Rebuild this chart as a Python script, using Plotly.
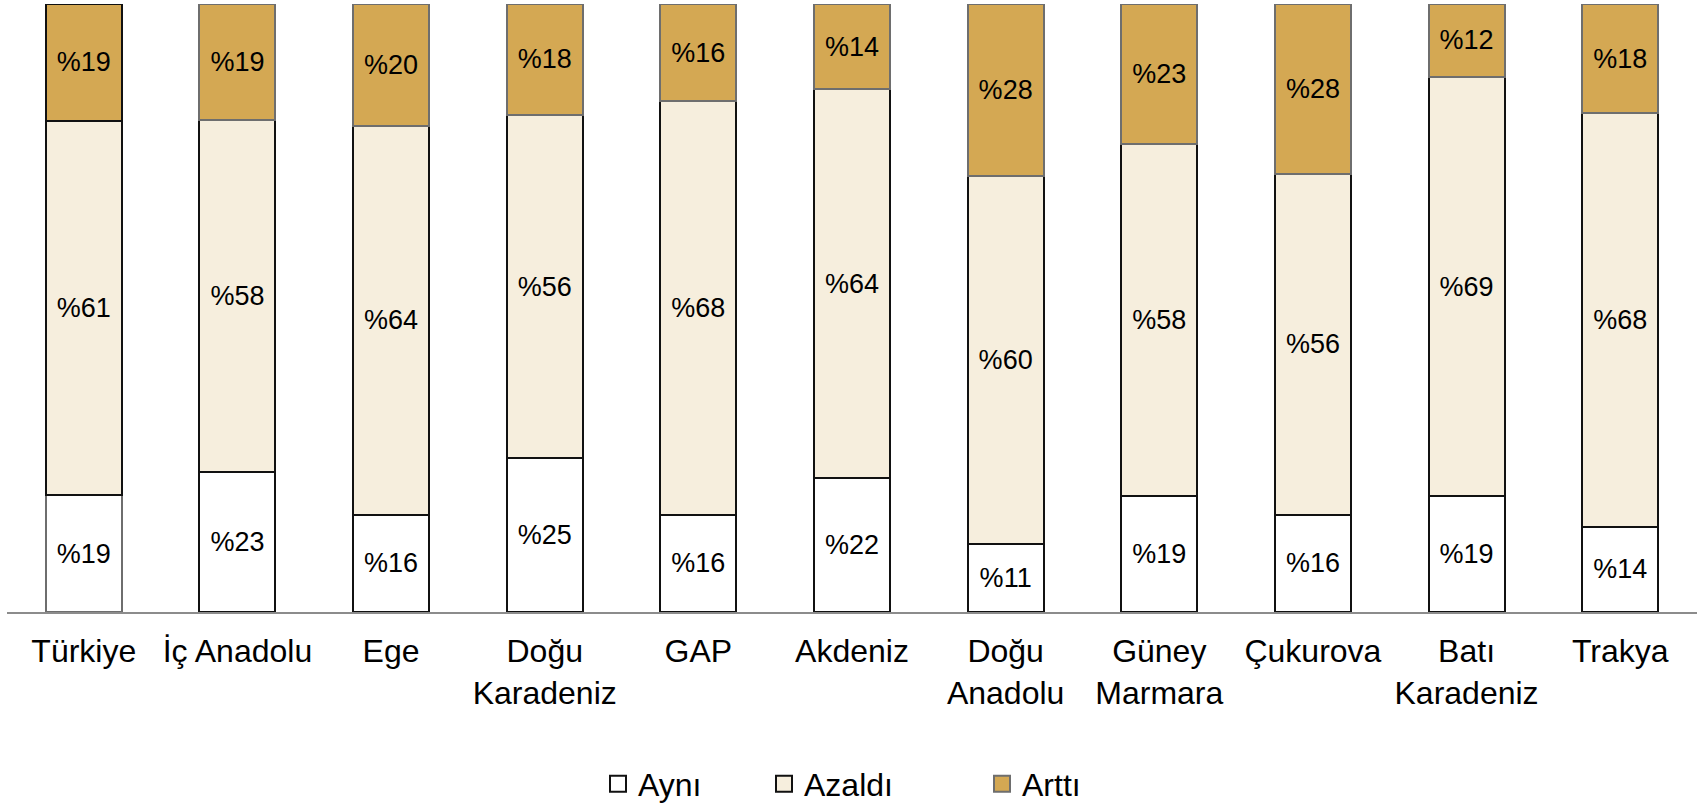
import plotly.graph_objects as go

regions = ["Türkiye", "İç Anadolu", "Ege", "Doğu<br>Karadeniz", "GAP", "Akdeniz",
           "Doğu<br>Anadolu", "Güney<br>Marmara", "Çukurova", "Batı<br>Karadeniz", "Trakya"]
ayni = [19, 23, 16, 25, 16, 22, 11, 19, 16, 19, 14]
azaldi = [61, 58, 64, 56, 68, 64, 60, 58, 56, 69, 68]
artti = [19, 19, 20, 18, 16, 14, 28, 23, 28, 12, 18]

WHITE = "#FFFFFF"
CREAM = "#F6EEDD"
GOLD = "#D4A853"
BLACK = "#111111"
GRAY = "#6E6E6E"
FONT = "Arial, Liberation Sans, sans-serif"

n = len(regions)
series = [
    ("Aynı", ayni, WHITE, [GRAY] + [BLACK] * (n - 1), "legend"),
    ("Azaldı", azaldi, CREAM, [BLACK] * n, "legend2"),
    ("Arttı", artti, GOLD, [BLACK] + [GRAY] * (n - 1), "legend3"),
]

fig = go.Figure()
for name, vals, color, lines, lg in series:
    fig.add_trace(go.Bar(
        x=regions, y=vals, name=name,
        marker=dict(color=color, line=dict(color=lines, width=2)),
        text=[f"%{v}" for v in vals],
        textposition="inside", insidetextanchor="middle",
        textangle=0, constraintext="none",
        textfont=dict(family=FONT, size=27, color="#000000"),
        showlegend=False, hoverinfo="skip",
    ))

# legend entries
for name, vals, color, lines, lg in series:
    fig.add_trace(go.Scatter(
        x=[None], y=[None], mode="markers", name=name, legend=lg,
        marker=dict(symbol="square", size=16, color=color,
                    line=dict(color=BLACK if name != "Arttı" else GRAY, width=2)),
        showlegend=True,
    ))

L, R, T, B = 7, 5, 4, 192
W, H = 1702, 804

leg_common = dict(orientation="h", yanchor="middle", xanchor="left",
                  xref="container", yref="container",
                  font=dict(family=FONT, size=32, color="#000000"),
                  bgcolor="rgba(0,0,0,0)", itemclick=False, itemdoubleclick=False)
ly = 1 - 784 / H

fig.update_layout(
    width=W, height=H,
    margin=dict(l=L, r=R, t=T, b=B, autoexpand=False),
    paper_bgcolor="white", plot_bgcolor="white",
    barmode="stack", barnorm="percent", bargap=0.505,
    font=dict(family=FONT, size=32, color="#000000"),
    xaxis=dict(showline=True, linecolor="#8C8C8C", linewidth=2, ticks="",
               showgrid=False, zeroline=False, automargin=False,
               ticklabelstandoff=10,
               tickfont=dict(family=FONT, size=32, color="#000000"),
               fixedrange=True),
    yaxis=dict(visible=False, range=[0, 100], fixedrange=True),
    legend=dict(x=598 / W, y=ly, **leg_common),
    legend2=dict(x=764 / W, y=ly, **leg_common),
    legend3=dict(x=982 / W, y=ly, **leg_common),
    showlegend=True,
)

fig.write_html("out.html", config={"displayModeBar": False},
               post_script="document.body.style.margin='0';")
